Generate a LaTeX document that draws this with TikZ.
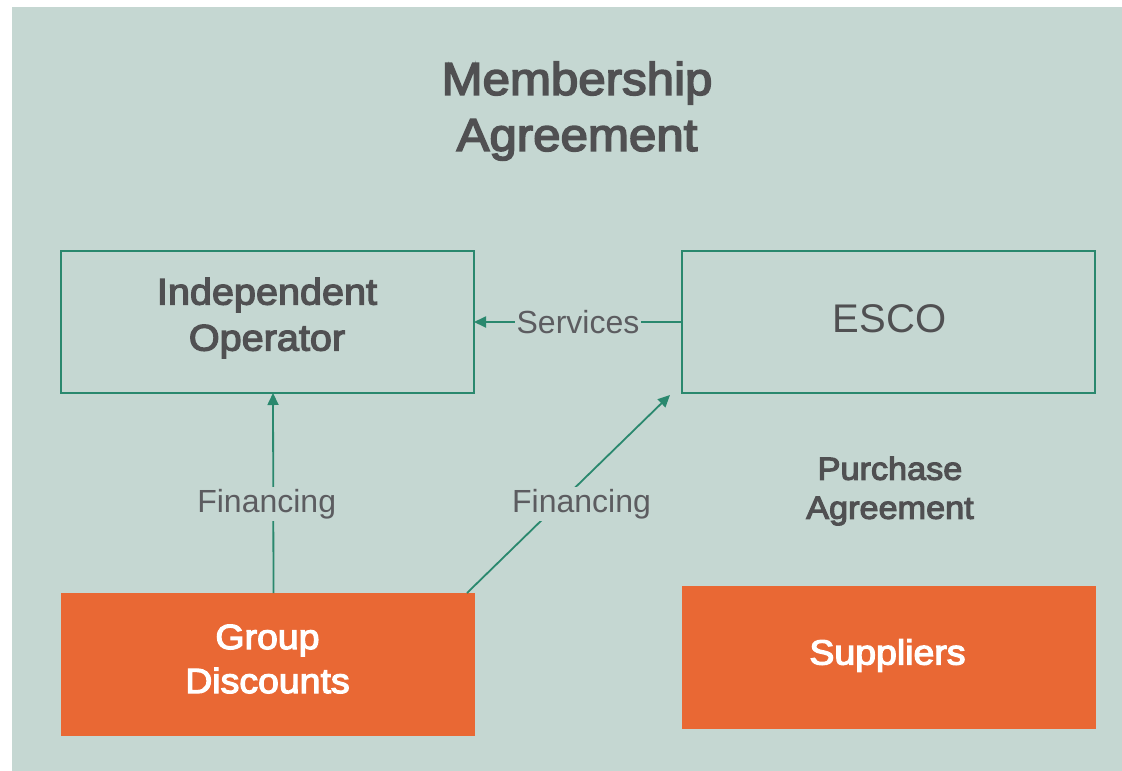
\documentclass[tikz,border=0pt]{standalone}
\usepackage{fontspec}
\setmainfont{Liberation Sans}
\newfontfamily\medfont[FakeBold=3.5,FakeStretch=1.07]{Liberation Sans}
\usetikzlibrary{arrows.meta}
\definecolor{bgc}{RGB}{197,215,210}
\definecolor{orng}{RGB}{233,104,52}
\definecolor{grn}{RGB}{42,136,110}
\definecolor{txt}{RGB}{80,80,82}
\definecolor{ltxt}{RGB}{92,92,96}
\tikzset{
  obox/.style={draw=grn, line width=1.4pt, inner sep=0pt, outer sep=0pt, minimum width=413pt, minimum height=142pt},
  fbox/.style={fill=orng, draw=none, inner sep=0pt, outer sep=0pt, minimum width=414pt, minimum height=143pt},
  arr/.style={draw=grn, line width=1.8pt, -{Triangle[length=12pt,width=11pt]}},
  lbl/.style={text=ltxt, font=\fontsize{32}{38}\selectfont, fill=bgc, inner sep=2pt},
  medtxt/.style={text=txt, align=center, inner sep=0pt},
  wtxt/.style={text=white, align=center, inner sep=0pt}
}
\begin{document}
\begin{tikzpicture}[x=1pt,y=-1pt]
\useasboundingbox (0,0) rectangle (1122,771);
\fill[bgc] (12,7) rectangle (1122,771);

\node[medtxt, font=\medfont\fontsize{46}{56}\selectfont] (title) at (577,111) {Membership\\Agreement};

\node[obox] (io) at (267.5,322) {};
\node[obox] (esco) at (888.5,322) {};
\node[fbox] (gd) at (268,664.5) {};
\node[fbox] (sup) at (889,657.5) {};

\node[medtxt, font=\medfont\fontsize{37}{46}\selectfont] (iot) at (267,318) {Independent\\Operator};
\node[medtxt, font=\fontsize{40}{48}\selectfont] (escot) at (889.5,318.5) {ESCO};
\node[medtxt, font=\medfont\fontsize{32}{39}\selectfont] (pa) at (890,491) {Purchase\\Agreement};
\node[wtxt, font=\medfont\fontsize{35}{44}\selectfont] (gdt) at (267.5,659) {Group\\Discounts};
\node[wtxt, font=\medfont\fontsize{35}{44}\selectfont] (supt) at (887.5,655.5) {Suppliers};

\draw[arr] (esco.west) -- node[lbl] (serv) {Services} (io.east);
\draw[arr] ([xshift=5.5pt]gd.north) -- ([xshift=5.5pt]io.south);
\node[lbl] (fin1) at (266.7,504) {Financing};
\draw[arr] ([xshift=-8pt]gd.north east) -- ([xshift=-12pt,yshift=-2pt]esco.south west);
\node[lbl] (fin2) at (581.5,504) {Financing};
\end{tikzpicture}
\end{document}
